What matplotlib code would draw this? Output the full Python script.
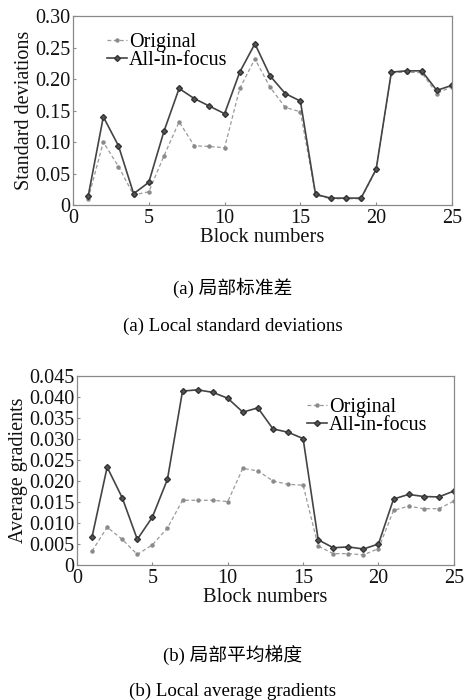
import matplotlib
matplotlib.use("Agg")
import matplotlib.pyplot as plt
from matplotlib.ticker import FuncFormatter

blocks = list(range(1, 26))
std_original = [0.010, 0.100, 0.061, 0.016, 0.021, 0.078, 0.132, 0.094, 0.093, 0.091,
                0.185, 0.232, 0.187, 0.155, 0.148, 0.016, 0.010, 0.010, 0.010, 0.056,
                0.210, 0.211, 0.210, 0.177, 0.188]
std_allfocus = [0.014, 0.140, 0.094, 0.018, 0.036, 0.117, 0.185, 0.169, 0.157, 0.145,
                0.211, 0.256, 0.205, 0.177, 0.165, 0.017, 0.011, 0.011, 0.011, 0.057,
                0.211, 0.213, 0.213, 0.182, 0.190]
grad_original = [0.0033, 0.0090, 0.0061, 0.0025, 0.0048, 0.0088, 0.0154, 0.0154, 0.0154, 0.0151,
                 0.0230, 0.0224, 0.0200, 0.0192, 0.0190, 0.0045, 0.0027, 0.0027, 0.0024, 0.0039,
                 0.0130, 0.0140, 0.0134, 0.0134, 0.0152]
grad_allfocus = [0.0067, 0.0233, 0.0160, 0.0061, 0.0114, 0.0204, 0.0414, 0.0417, 0.0411, 0.0397,
                 0.0364, 0.0374, 0.0324, 0.0316, 0.0301, 0.0060, 0.0041, 0.0043, 0.0038, 0.0050,
                 0.0157, 0.0168, 0.0163, 0.0162, 0.0176]
std_ticks = [0, 0.05, 0.10, 0.15, 0.20, 0.25, 0.30]
grad_ticks = [0, 0.005, 0.010, 0.015, 0.020, 0.025, 0.030, 0.035, 0.040, 0.045]
x_ticks = [0, 5, 10, 15, 20, 25]
series_names = ["Original", "All-in-focus"]

serif = ["Liberation Serif", "DejaVu Serif"]
plt.rcParams["font.family"] = serif

fig = plt.figure(figsize=(4.65, 7.0), dpi=100)

def style_axes(ax, yticks, decimals, ylabel):
    ax.set_xlim(0, 25)
    ax.set_ylim(yticks[0], yticks[-1])
    ax.set_xticks(x_ticks)
    ax.set_yticks(yticks)
    ax.yaxis.set_major_formatter(FuncFormatter(lambda v, p: "0" if abs(v) < 1e-12 else f"{v:.{decimals}f}"))
    ax.tick_params(direction="in", length=2.5, width=0.8, color="#8a8a8a",
                   labelsize=14.5, labelcolor="#111111")
    ax.tick_params(axis="x", pad=3)
    ax.tick_params(axis="y", pad=2)
    for s in ax.spines.values():
        s.set_color("#8a8a8a")
        s.set_linewidth(0.9)
    ax.set_xlabel("Block numbers", fontsize=14.8, labelpad=0, color="#111111")
    ax.set_ylabel(ylabel, fontsize=14.5, labelpad=1, color="#111111")

def draw(ax, orig, focus):
    ax.plot(blocks, orig, linestyle="--", color="#9a9a9a", lw=0.9, marker="o", ms=2.2,
            mfc="#8a8a8a", mec="#8a8a8a", label=series_names[0], dashes=(3, 2))
    ax.plot(blocks, focus, linestyle="-", color="#444444", lw=1.2, marker="D", ms=3,
            mfc="#555555", mec="#333333", label=series_names[1])

ax1 = fig.add_axes([0.157, 0.7071, 0.815, 0.270])
draw(ax1, std_original, std_allfocus)
style_axes(ax1, std_ticks, 2, "Standard deviations")
ax1.legend(loc="upper left", bbox_to_anchor=(0.052, 0.985), frameon=False, fontsize=14.5,
           handlelength=1.0, handletextpad=0.1, labelspacing=-0.05, borderpad=0.2)

ax2 = fig.add_axes([0.1656, 0.1929, 0.8104, 0.270])
draw(ax2, grad_original, grad_allfocus)
style_axes(ax2, grad_ticks, 3, "Average gradients")
ax2.legend(loc="upper left", bbox_to_anchor=(0.572, 0.96), frameon=False, fontsize=14.5,
           handlelength=1.0, handletextpad=0.1, labelspacing=-0.05, borderpad=0.2)

cjk = ["Liberation Serif", "Noto Sans CJK SC"]
fig.text(0.5, 1 - 288/700, "(a) 局部标准差", ha="center", va="center", fontsize=13.5, family=cjk)
fig.text(0.5, 1 - 326/700, "(a) Local standard deviations", ha="center", va="center", fontsize=13.6)
fig.text(0.5, 1 - 655/700, "(b) 局部平均梯度", ha="center", va="center", fontsize=13.5, family=cjk)
fig.text(0.5, 1 - 691/700, "(b) Local average gradients", ha="center", va="center", fontsize=13.6)

fig.savefig("out.png", dpi=100)
